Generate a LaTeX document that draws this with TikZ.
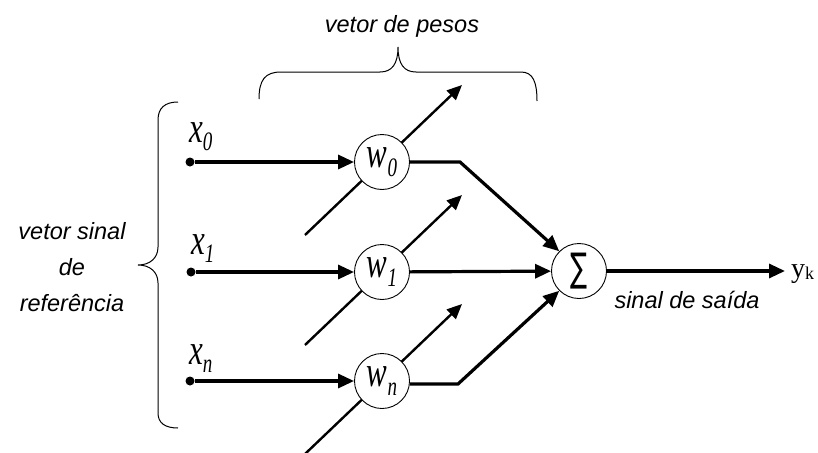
\documentclass[tikz,border=0pt]{standalone}
\usepackage{fontspec}
\usepackage{graphicx}
\setmainfont{Liberation Serif}
\newfontfamily\labfont{Liberation Sans}
\newfontfamily\sumfont{DejaVu Sans}
\usetikzlibrary{arrows.meta}
\newcommand\mlab[2]{\scalebox{1}[1.4]{\fontsize{31}{31}\selectfont\itshape #1\raisebox{-6pt}{\fontsize{19}{19}\selectfont #2}}}
\begin{document}
\begin{tikzpicture}[x=1pt,y=-1pt,
  wire/.style={line width=3.2pt},
  arr/.style={-{Triangle[length=16pt,width=14pt]}},
  diag/.style={line width=2.4pt,-{Triangle[length=15pt,width=13pt]}},
  wcirc/.style={circle,draw,line width=0.9pt,fill=white,minimum size=55pt,inner sep=0pt},
  dotnode/.style={circle,fill,inner sep=0pt,minimum size=9pt},
  bracepath/.style={line width=1pt},
  txt/.style={font=\labfont\itshape\fontsize{23.5}{36}\selectfont},
  mtxt/.style={inner sep=0pt}]
\useasboundingbox (0,0) rectangle (818,452);
% diagonal coordinates
\coordinate (lo0) at (305,235);
\coordinate (hi0) at (462,85);
\coordinate (lo1) at (305,345);
\coordinate (hi1) at (462,195);
\coordinate (lo2) at (305,454);
\coordinate (hi2) at (462,304);
\draw[diag] (lo0) -- (hi0);
\draw[diag] (lo1) -- (hi1);
\draw[diag] (lo2) -- (hi2);
% weight nodes
\node[wcirc] (w0) at (382,162) {\mlab{w}{0}};
\node[wcirc] (w1) at (382,272) {\mlab{w}{1}};
\node[wcirc] (w2) at (382,381) {\mlab{w}{n}};
% inputs
\node[dotnode] (i0) at (190,162) {};
\node[dotnode] (i1) at (191,272) {};
\node[dotnode] (i2) at (190,381) {};
\node[mtxt,anchor=base west] (lx0) at (189,142) {\mlab{x}{0}};
\node[mtxt,anchor=base west] (lx1) at (191,254) {\mlab{x}{1}};
\node[mtxt,anchor=base west] (lx2) at (189,364) {\mlab{x}{n}};
\draw[wire,arr] (i0) -- (w0);
\draw[wire,arr] (i1) -- (w1);
\draw[wire,arr] (i2) -- (w2);
% sum
\node[wcirc] (sum) at (579,271) {\resizebox*{17pt}{36pt}{\sumfont ∑}};
\coordinate (b0) at (460,162);
\coordinate (b2) at (458,384);
\draw[wire,arr] (w0.east) -- (b0) -- (sum.135);
\draw[wire,arr] (w1) -- (sum);
\draw[wire,arr] (w2.east |- b2) -- (b2) -- (sum.-135);
% output
\node[mtxt,anchor=base west] (yk) at (791,277) {\fontsize{28}{28}\selectfont y\raisebox{-2pt}{\fontsize{18}{18}\selectfont k}};
\draw[wire,arr] (sum.east) -- ([xshift=-6pt]sum.east -| yk.west);
% texts
\node[txt,anchor=base] (vp) at (402,33) {vetor de pesos};
\node[txt,align=center] (vs) at (72,267) {vetor sinal\\de\\referência};
\node[txt,anchor=base] (ss) at (687,308) {sinal de saída};
% braces
\draw[bracepath] (259,99) .. controls (259,80) and (265,72) .. (281,72) -- (380,72)
  .. controls (392,72) and (398,64) .. (398,47)
  .. controls (398,64) and (404,72) .. (416,72) -- (521,72)
  .. controls (533,72) and (537,82) .. (537,101);
\draw[bracepath] (178,102) .. controls (165,102) and (158,108) .. (158,120) -- (158,247)
  .. controls (158,258) and (150,265) .. (138,265)
  .. controls (150,265) and (158,272) .. (158,283) -- (158,413)
  .. controls (158,423) and (165,428) .. (178,428);
\end{tikzpicture}
\end{document}
